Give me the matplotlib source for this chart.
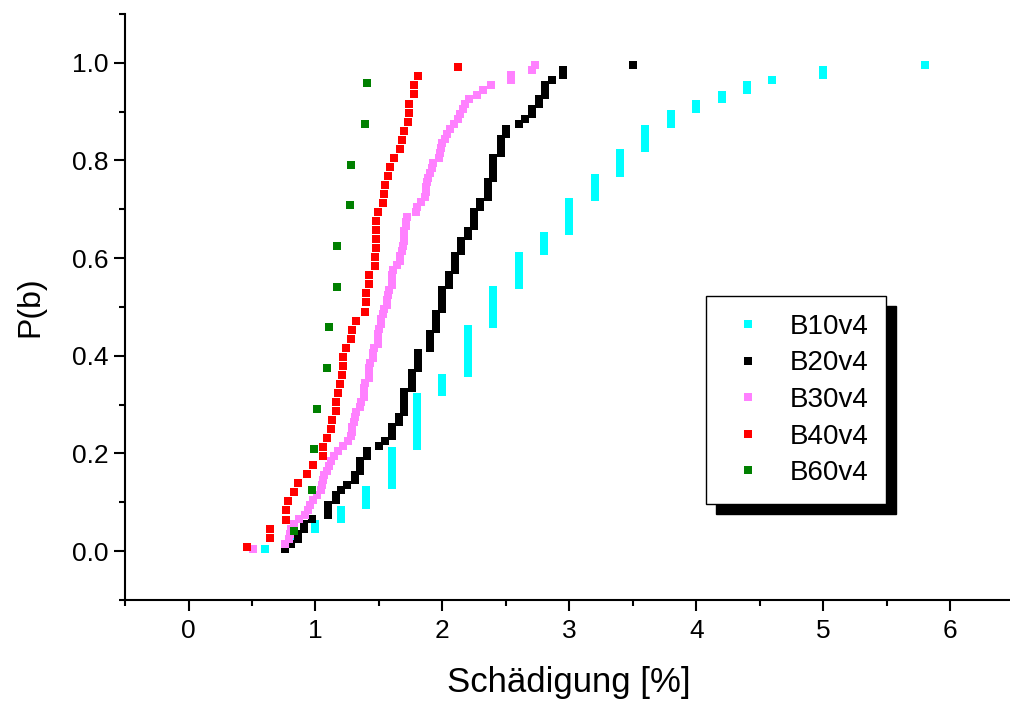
import numpy as np
import matplotlib
matplotlib.use("Agg")
import matplotlib.pyplot as plt
from matplotlib.ticker import MultipleLocator, FormatStrFormatter

plt.rcParams['font.family'] = ['Liberation Sans', 'DejaVu Sans']

# damage values per series (sorted)
# B10v4 and B20v4 have many repeated values -> value / count
b10_vals = [0.6, 0.8, 1.0, 1.2, 1.4, 1.6, 1.8, 2.0, 2.2, 2.4, 2.6, 2.8,
            3.0, 3.2, 3.4, 3.6, 3.8, 4.0, 4.2, 4.4, 4.6, 5.0, 5.8]
b10_counts = [1, 3, 2, 3, 4, 8, 11, 4, 10, 8, 7, 4,
              7, 5, 5, 5, 3, 2, 2, 2, 1, 2, 1]

b20_vals = [0.76, 0.81, 0.86, 0.91, 0.97, 1.10, 1.16, 1.20, 1.25, 1.31,
            1.35, 1.41, 1.50, 1.55, 1.60, 1.66, 1.70, 1.76, 1.81, 1.90,
            1.95, 2.00, 2.05, 2.10, 2.15, 2.20, 2.25, 2.30, 2.36, 2.40,
            2.46, 2.50, 2.60, 2.65, 2.71, 2.76, 2.81, 2.86, 2.95, 3.50]
b20_counts = [1, 1, 2, 2, 1, 3, 2, 1, 1, 2,
              3, 2, 1, 1, 3, 2, 5, 4, 4, 4,
              4, 5, 3, 4, 3, 2, 4, 2, 4, 5,
              4, 2, 1, 1, 2, 2, 3, 1, 2, 1]

b30 = [0.51, 0.76, 0.79, 0.80, 0.81, 0.83, 0.87, 0.92, 0.94, 0.96,
       0.98, 1.01, 1.04, 1.05, 1.06, 1.07, 1.09, 1.11, 1.12, 1.15,
       1.18, 1.22, 1.26, 1.28, 1.29, 1.29, 1.30, 1.31, 1.32, 1.35,
       1.36, 1.38, 1.38, 1.38, 1.39, 1.42, 1.42, 1.42, 1.43, 1.45,
       1.45, 1.46, 1.49, 1.49, 1.49, 1.50, 1.52, 1.52, 1.53, 1.54,
       1.56, 1.56, 1.57, 1.58, 1.60, 1.60, 1.60, 1.61, 1.64, 1.67,
       1.67, 1.68, 1.69, 1.70, 1.70, 1.70, 1.71, 1.71, 1.72, 1.79,
       1.80, 1.83, 1.86, 1.87, 1.87, 1.88, 1.89, 1.90, 1.92, 1.93,
       1.97, 1.98, 1.99, 2.00, 2.02, 2.04, 2.06, 2.09, 2.12, 2.14,
       2.16, 2.18, 2.21, 2.27, 2.32, 2.38, 2.54, 2.54, 2.71, 2.73]

b40 = [0.46, 0.64, 0.64, 0.77, 0.77, 0.78, 0.83, 0.86, 0.93, 0.98,
       1.06, 1.06, 1.09, 1.12, 1.13, 1.16, 1.16, 1.18, 1.19, 1.21,
       1.22, 1.22, 1.24, 1.28, 1.29, 1.32, 1.39, 1.40, 1.40, 1.42,
       1.42, 1.47, 1.47, 1.48, 1.48, 1.48, 1.48, 1.49, 1.53, 1.54,
       1.55, 1.57, 1.59, 1.62, 1.67, 1.68, 1.70, 1.73, 1.74, 1.74,
       1.78, 1.78, 1.81, 2.12]

b60 = [0.83, 0.97, 0.99, 1.01, 1.09, 1.11, 1.17, 1.17, 1.27, 1.28, 1.39, 1.41]

labels = ['B10v4', 'B20v4', 'B30v4', 'B40v4', 'B60v4']
colors = ['#00FFFF', '#000000', '#FF80FF', '#FF0000', '#008000']

series = [np.repeat(b10_vals, b10_counts), np.repeat(b20_vals, b20_counts),
          np.array(b30), np.array(b40), np.array(b60)]

fig = plt.figure(figsize=(10.1, 7.02), dpi=100)
ax = fig.add_axes([0.1238, 0.1453, 0.8797, 0.8348])

for x, lab, c in zip(series, labels, colors):
    n = len(x)
    p = (np.arange(1, n + 1) - 0.5) / n   # Hazen plotting positions
    ax.plot(x, p, 's', color=c, markersize=5.5, markeredgewidth=0, label=lab)

ax.set_xlim(-0.5, 6.5)
ax.set_ylim(-0.1, 1.1)
ax.xaxis.set_major_locator(MultipleLocator(1))
ax.xaxis.set_minor_locator(MultipleLocator(0.5))
ax.yaxis.set_major_locator(MultipleLocator(0.2))
ax.yaxis.set_minor_locator(MultipleLocator(0.1))
ax.yaxis.set_major_formatter(FormatStrFormatter('%.1f'))

for s in ['top', 'right']:
    ax.spines[s].set_visible(False)
for s in ['left', 'bottom']:
    ax.spines[s].set_linewidth(1.5)

ax.tick_params(which='major', direction='out', length=8, width=1.5, labelsize=19, pad=6)
ax.tick_params(axis='y', which='major', pad=4)
ax.tick_params(which='minor', direction='out', length=4.5, width=1.5)

ax.set_xlabel('Schädigung [%]', fontsize=25, labelpad=16)
ax.set_ylabel('P(b)', fontsize=23, labelpad=19)

leg = ax.legend(loc='upper left', bbox_to_anchor=(0.654, 0.519), borderaxespad=0,
                fontsize=20, fancybox=False, frameon=True, borderpad=0.65,
                handlelength=1.7, handletextpad=0.65, labelspacing=0.38,
                shadow={'color': 'black', 'alpha': 1, 'ox': 7, 'oy': -7})
leg.get_frame().set_edgecolor('black')
leg.get_frame().set_linewidth(1.0)

fig.savefig('out.png', dpi=100)
